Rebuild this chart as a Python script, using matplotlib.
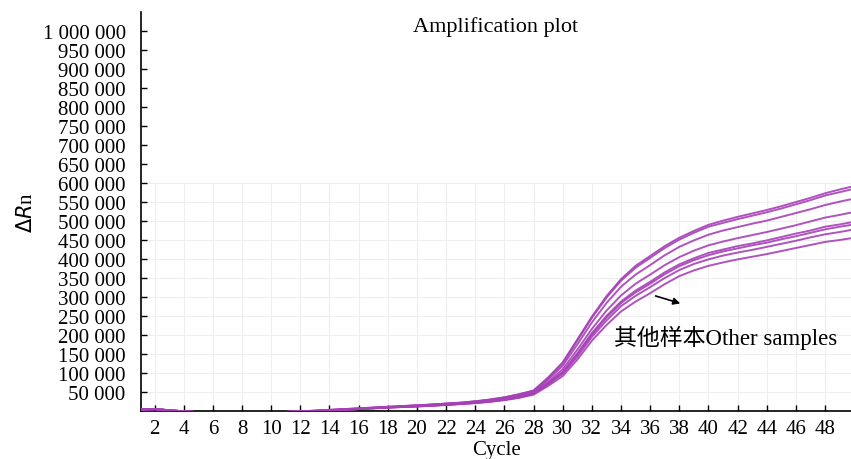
import numpy as np
import matplotlib.pyplot as plt
from matplotlib.ticker import FuncFormatter

plt.rcParams['font.family'] = ['Liberation Serif', 'Noto Sans CJK SC']

cycles = np.arange(1, 51)

# delta Rn in thousands, cycles 1..50
early = [4, 5, 2, -1, -3, -4, -4.5, -4.5, -4, -3.5, -2.5, -1]
s1 = early + [1, 3, 5, 7, 9, 11, 13, 15, 17, 19.5, 22, 25.5, 30, 36, 44,
              54, 88, 128, 188, 248, 302, 347, 382, 408, 434, 456, 474, 490, 501,
              511, 520, 529, 539, 550, 561, 573, 583, 592]
s2 = early + [1, 3, 5, 7, 9, 11, 13, 15, 17, 19.5, 22, 25.5, 30, 36, 44,
              53, 87, 126, 185, 245, 298, 343, 377, 403, 429, 451, 469, 485, 495,
              505, 514, 523, 533, 544, 555, 567, 576, 585]
s3 = early + [0.5, 2.5, 4.5, 6.5, 8.5, 10.5, 12.5, 14.5, 16.5, 19, 21, 24.5, 29, 34, 42,
              51, 83, 119, 175, 233, 284, 327, 359, 384, 410, 432, 449, 464, 475,
              484, 493, 501, 511, 521, 531, 542, 551, 559]
s4 = early + [0.5, 2, 4, 6, 8, 10, 12, 13.5, 15.5, 18, 20, 23, 27, 33, 40,
              48, 77, 110, 161, 216, 264, 304, 335, 359, 384, 405, 422, 436, 446,
              455, 463, 471, 480, 489, 499, 509, 516, 524]
s5 = early + [0, 2, 3.5, 5.5, 7.5, 9.5, 11, 12.5, 14.5, 16.5, 19, 22, 25.5, 30, 37,
              46, 73, 103, 151, 205, 250, 288, 317, 340, 365, 386, 402, 416, 425,
              434, 441, 449, 458, 467, 475, 485, 491, 498]
s6 = early + [0, 1.5, 3.5, 5.5, 7.5, 9.5, 11, 12.5, 14.5, 16.5, 19, 21.5, 25, 30, 36,
              46, 72, 101, 149, 201, 246, 284, 312, 335, 360, 381, 397, 410, 420,
              428, 436, 443, 452, 460, 469, 478, 485, 491]
s7 = early + [0, 1.5, 3, 5, 7, 9, 10.5, 12, 14, 16, 18.5, 21, 24.5, 29, 35,
              45, 70, 98, 143, 195, 238, 276, 303, 326, 350, 371, 387, 399, 409,
              417, 424, 432, 440, 448, 457, 465, 471, 478]
s8 = early + [0, 1.5, 3, 5, 7, 9, 10.5, 12, 14, 16, 18.5, 21, 24.5, 29, 35,
              43, 66, 92, 135, 185, 226, 262, 288, 310, 334, 355, 370, 382, 391,
              399, 406, 413, 421, 429, 437, 445, 450, 456]
samples = [s1, s2, s3, s4, s5, s6, s7, s8]
ntc = [1, 2, 1.5, 0.3, -1, -2, -3, -3, -3, -3, -3, -3, -3, -2, -1, 0.5, -1, -2, -2, -2,
       -2, -2, -2, -2, -2, -2, -2, -2, -2, -2, -2, -2, -2, -2, -2, -2, -2, -2, -2, -2,
       -2, -2, -2, -2, -2, -2, -2, -2, -2, -2]

fig = plt.figure(figsize=(8.51, 4.6), dpi=100)
ax = fig.add_axes([0.1657, 0.1043, 0.8343, 0.8674])

# faint grid, only in the lower part of the plot
for c in range(2, 50, 2):
    ax.plot([c, c], [0, 600000], color='#eeeeee', lw=0.8, zorder=0)
for v in range(50000, 600001, 50000):
    ax.plot([1, 50], [v, v], color='#eeeeee', lw=0.8, zorder=0)

ax.plot(cycles, np.array(ntc) * 1000, color='#5fbf5f', lw=1.2, zorder=2)
for s in samples:
    ax.plot(cycles, np.array(s) * 1000, color='#a640b6', lw=1.4, alpha=0.9, zorder=3)

ax.set_xlim(1.07, 49.78)
ax.set_ylim(0, 1050000)
ax.set_xticks(range(2, 50, 2))
ax.set_yticks(range(50000, 1000001, 50000))
ax.yaxis.set_major_formatter(FuncFormatter(lambda v, p: f'{int(v):,}'.replace(',', ' ')))
ax.tick_params(direction='in', length=4, width=1, labelsize=15)
ax.tick_params(axis='y', pad=11)
ax.tick_params(axis='x', pad=6)
for side in ['top', 'right']:
    ax.spines[side].set_visible(False)
for side in ['left', 'bottom']:
    ax.spines[side].set_linewidth(1.2)

ax.set_xlabel('Cycle', fontsize=15, labelpad=1)
ax.set_ylabel(r'$\Delta$$\it{R}$n', fontsize=15, labelpad=4)
ax.text(0.5, 0.99, 'Amplification plot', transform=ax.transAxes, ha='center', va='top', fontsize=16)

ax.annotate('', xy=(38.25, 281000), xytext=(36.19, 305000),
            arrowprops=dict(arrowstyle='-|>', color='black', lw=1.2, mutation_scale=10))
ax.text(33.5, 195000, '其他样本Other samples', fontsize=16.5, va='center', ha='left',
        family=['Liberation Serif', 'Noto Sans CJK SC'])

fig.savefig('out.png', dpi=100)
